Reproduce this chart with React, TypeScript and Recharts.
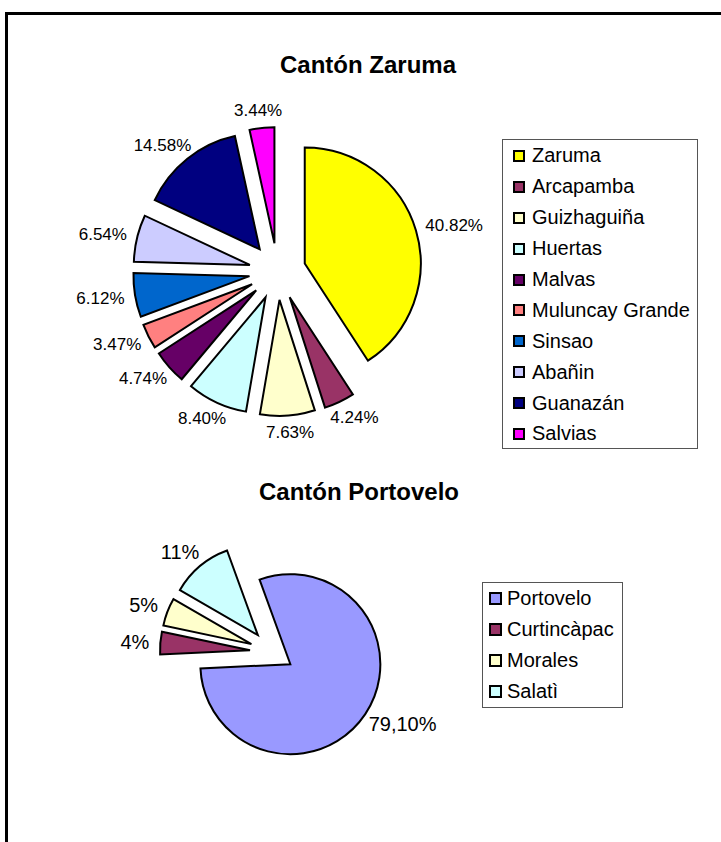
import { PieChart, Pie, Cell, Legend, Sector } from 'recharts';

// Cantón Zaruma
const ZARUMA_NAMES = ['Zaruma', 'Arcapamba', 'Guizhaguiña', 'Huertas', 'Malvas', 'Muluncay Grande', 'Sinsao', 'Abañin', 'Guanazán', 'Salvias'];
const ZARUMA_VALUES = [40.82, 4.24, 7.63, 8.4, 4.74, 3.47, 6.12, 6.54, 14.58, 3.44];
const ZARUMA_COLORS = ['#FFFF00', '#993366', '#FFFFCC', '#CCFFFF', '#660066', '#FF8080', '#0066CC', '#CCCCFF', '#000080', '#FF00FF'];

// Cantón Portovelo
const PORTOVELO_NAMES = ['Portovelo', 'Curtincàpac', 'Morales', 'Salatì'];
const PORTOVELO_VALUES = [79.1, 4, 5, 11];
const PORTOVELO_LABELS = ['79,10%', '4%', '5%', '11%'];
const PORTOVELO_COLORS = ['#9999FF', '#993366', '#FFFFCC', '#CCFFFF'];

const zarumaData = ZARUMA_NAMES.map((name, i) => ({ name, value: ZARUMA_VALUES[i] }));
const zarumaLabels = ZARUMA_VALUES.map((v) => `${v.toFixed(2)}%`);
const portoveloData = PORTOVELO_NAMES.map((name, i) => ({ name, value: PORTOVELO_VALUES[i] }));

const FONT = "'Liberation Sans', Arial, sans-serif";
const RAD = Math.PI / 180;

// rough Arial advance widths, enough to push labels clear of the slices
const charW: Record<string, number> = { '.': 0.278, ',': 0.278, '%': 0.889 };
const textWidth = (s: string, size: number) =>
    s.split('').reduce((w, c) => w + (charW[c] ?? 0.556), 0) * size;

// draws each slice pulled out along its mid angle (Excel "exploded" pie) plus its % label
const explodedSlice = (colors: string[], labels: string[], fontSize: number, explode = 0.245, gap = 11) =>
    (props: any) => {
        const { cx, cy, midAngle, outerRadius, startAngle, endAngle, index } = props;
        const ux = Math.cos(-midAngle * RAD);
        const uy = Math.sin(-midAngle * RAD);
        const d = outerRadius * explode;
        const ex = cx + ux * d;
        const ey = cy + uy * d;
        const text = labels[index];
        const w = textWidth(text, fontSize);
        const h = fontSize * 0.72;
        const lx = ex + ux * (outerRadius + gap) + (ux * w) / 2;
        const ly = ey + uy * (outerRadius + gap) + (uy * h) / 2;
        return (
            <g key={`slice-${index}`}>
                <Sector
                    cx={ex}
                    cy={ey}
                    innerRadius={0}
                    outerRadius={outerRadius}
                    startAngle={startAngle}
                    endAngle={endAngle}
                    fill={colors[index]}
                    stroke="#000"
                    strokeWidth={2}
                />
                <text x={lx} y={ly} textAnchor="middle" dominantBaseline="central" fontSize={fontSize} fontFamily={FONT} fill="#000">
                    {text}
                </text>
            </g>
        );
    };

// legend keeps the data order (Recharts sorts by name otherwise)
const legendBox = (order: string[], o: { width: number; height: number; padLeft: number; padTop: number; marker: number; gap: number; row: number }) =>
    (props: any) => {
        const items = [...(props.payload || [])].sort((a: any, b: any) => order.indexOf(a.value) - order.indexOf(b.value));
        return (
            <div
                style={{
                    width: o.width,
                    height: o.height,
                    boxSizing: 'border-box',
                    border: '1px solid #555',
                    background: '#fff',
                    paddingTop: o.padTop,
                    fontFamily: FONT,
                }}
            >
                {items.map((item: any) => (
                    <div key={item.value} style={{ height: o.row, display: 'flex', alignItems: 'center', paddingLeft: o.padLeft }}>
                        <span
                            style={{
                                width: o.marker,
                                height: o.marker,
                                boxSizing: 'border-box',
                                border: '2px solid #000',
                                background: item.color,
                                marginRight: o.gap,
                                flexShrink: 0,
                            }}
                        />
                        <span style={{ fontSize: 20, color: '#000', whiteSpace: 'nowrap' }}>{item.value}</span>
                    </div>
                ))}
            </div>
        );
    };

const titleStyle = (centerX: number, top: number): React.CSSProperties => ({
    position: 'absolute',
    left: centerX - 200,
    top,
    width: 400,
    textAlign: 'center',
    fontFamily: FONT,
    fontWeight: 'bold',
    fontSize: 24,
    lineHeight: '24px',
    color: '#000',
});

export default function App() {
    return (
        <div style={{ position: 'absolute', left: 0, top: 0, width: 721, height: 842, overflow: 'hidden', background: '#fff' }}>
            {/* outer frame, right and bottom edges fall outside the picture */}
            <div style={{ position: 'absolute', left: 5, top: 12, width: 800, height: 900, borderTop: '3px solid #000', borderLeft: '3px solid #000' }} />

            <div style={titleStyle(368, 53)}>Cantón Zaruma</div>
            <div style={{ position: 'absolute', left: 0, top: 0 }}>
                <PieChart width={721} height={470} margin={{ top: 0, right: 0, bottom: 0, left: 0 }}>
                    <Pie
                        data={zarumaData}
                        dataKey="value"
                        nameKey="name"
                        cx={277.5}
                        cy={271.5}
                        outerRadius={116}
                        startAngle={90}
                        endAngle={-270}
                        isAnimationActive={false}
                        labelLine={false}
                        label={explodedSlice(ZARUMA_COLORS, zarumaLabels, 17)}
                    >
                        {zarumaData.map((d, i) => (
                            <Cell key={d.name} fill={ZARUMA_COLORS[i]} fillOpacity={0} stroke="none" />
                        ))}
                    </Pie>
                    <Legend
                        layout="vertical"
                        align="right"
                        verticalAlign="top"
                        wrapperStyle={{ left: 502, top: 139, right: 'auto', bottom: 'auto' }}
                        content={legendBox(ZARUMA_NAMES, { width: 196, height: 310, padLeft: 10, padTop: 0.5, marker: 12, gap: 7, row: 30.9 })}
                    />
                </PieChart>
            </div>

            <div style={titleStyle(359, 480)}>Cantón Portovelo</div>
            <div style={{ position: 'absolute', left: 0, top: 470 }}>
                <PieChart width={721} height={372} margin={{ top: 0, right: 0, bottom: 0, left: 0 }}>
                    <Pie
                        data={portoveloData}
                        dataKey="value"
                        nameKey="name"
                        cx={272}
                        cy={182}
                        outerRadius={90}
                        startAngle={110}
                        endAngle={-250}
                        isAnimationActive={false}
                        labelLine={false}
                        label={explodedSlice(PORTOVELO_COLORS, PORTOVELO_LABELS, 20)}
                    >
                        {portoveloData.map((d, i) => (
                            <Cell key={d.name} fill={PORTOVELO_COLORS[i]} fillOpacity={0} stroke="none" />
                        ))}
                    </Pie>
                    <Legend
                        layout="vertical"
                        align="right"
                        verticalAlign="top"
                        wrapperStyle={{ left: 482, top: 112, right: 'auto', bottom: 'auto' }}
                        content={legendBox(PORTOVELO_NAMES, { width: 141, height: 126, padLeft: 6, padTop: 0, marker: 13, gap: 5, row: 31.1 })}
                    />
                </PieChart>
            </div>
        </div>
    );
}
